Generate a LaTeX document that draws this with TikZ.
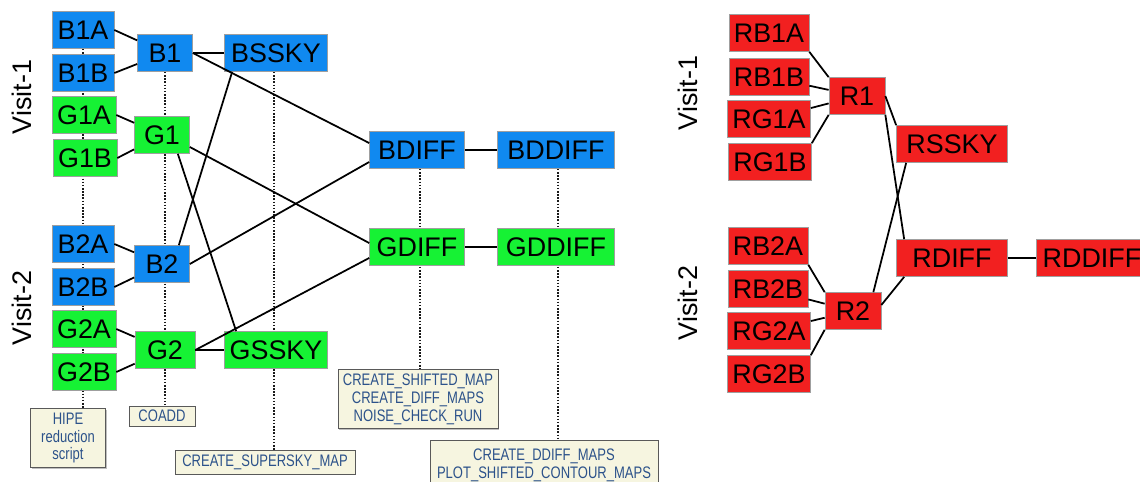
\documentclass[tikz,border=0pt]{standalone}
\usepackage{fontspec}
\setmainfont{Liberation Sans}
\newfontfamily\notefont[FakeStretch=0.78]{Liberation Sans}
\usetikzlibrary{positioning,backgrounds,shadows}

\definecolor{bandB}{RGB}{16,137,240}
\definecolor{bandG}{RGB}{22,242,52}
\definecolor{bandR}{RGB}{242,32,32}
\definecolor{notefill}{RGB}{246,245,224}
\definecolor{notetext}{RGB}{44,82,138}

\begin{document}
\begin{tikzpicture}[x=0.02cm, y=-0.02cm,
  box/.style={rectangle, draw=gray!75, fill=#1, minimum height=0.74cm, inner sep=1pt, font=\fontsize{15.3}{17}\selectfont},
  visit/.style={rotate=90, font=\fontsize{15.3}{17}\selectfont},
  note/.style={rectangle, draw=black!65, fill=notefill, text=notetext, align=center, inner sep=1pt,
    font={\notefont\fontsize{9.5}{10.2}\selectfont}, drop shadow={shadow xshift=0.7pt, shadow yshift=-0.7pt, fill=black!50}},
  link/.style={line width=1pt},
  trace/.style={dash pattern=on 0.9pt off 0.9pt, line width=1.1pt, black!90},
]

\useasboundingbox (0,0) rectangle (1140,481);
\clip (0,0) rectangle (1140,481);

% Visit labels
\node[visit] (v1) at (22,97) {Visit-1};
\node[visit] (v2) at (22,308) {Visit-2};

% Visit-1 inputs
\node[box=bandB, minimum width=1.24cm] (B1A) at (83,30) {B1A};
\node[box=bandB, minimum width=1.24cm] (B1B) at (83,73) {B1B};
\node[box=bandG, minimum width=1.28cm] (G1A) at (84,115) {G1A};
\node[box=bandG, minimum width=1.28cm] (G1B) at (85,158) {G1B};

% Visit-2 inputs
\node[box=bandB, minimum width=1.24cm] (B2A) at (83,244) {B2A};
\node[box=bandB, minimum width=1.24cm] (B2B) at (83,287) {B2B};
\node[box=bandG, minimum width=1.28cm] (G2A) at (84,329) {G2A};
\node[box=bandG, minimum width=1.28cm] (G2B) at (84,372) {G2B};

% Co-added maps
\node[box=bandB, minimum width=1.1cm] (B1) at (165,53) {B1};
\node[box=bandG, minimum width=1.1cm] (G1) at (162,135) {G1};
\node[box=bandB, minimum width=1.1cm] (B2) at (162,264) {B2};
\node[box=bandG, minimum width=1.2cm] (G2) at (165,350) {G2};

% Supersky
\node[box=bandB, minimum width=2.06cm] (BSSKY) at (276,53) {BSSKY};
\node[box=bandG, minimum width=2.06cm] (GSSKY) at (276,350) {GSSKY};

% Differences
\node[box=bandB, minimum width=1.9cm] (BDIFF) at (417,150) {BDIFF};
\node[box=bandB, minimum width=2.34cm] (BDDIFF) at (556,150) {BDDIFF};
\node[box=bandG, minimum width=1.9cm] (GDIFF) at (417,247) {GDIFF};
\node[box=bandG, minimum width=2.34cm] (GDDIFF) at (556,247) {GDDIFF};

% Script notes
\node[note, minimum width=1.5cm, minimum height=1.18cm] (hipe) at (68,438) {HIPE\\reduction\\script};
\node[note, minimum width=1.32cm, minimum height=0.4cm] (coadd) at (162,416) {COADD};
\node[note, minimum width=3.6cm, minimum height=0.48cm] (supersky) at (265,462) {CREATE\_SUPERSKY\_MAP};
\node[note, minimum width=3.2cm, minimum height=1.18cm] (shifted) at (418,399) {CREATE\_SHIFTED\_MAP\\CREATE\_DIFF\_MAPS\\NOISE\_CHECK\_RUN};
\node[note, minimum width=4.56cm, minimum height=0.98cm] (ddiff) at (544,465) {CREATE\_DDIFF\_MAPS\\PLOT\_SHIFTED\_CONTOUR\_MAPS};

% Connectors, left
\draw[link] (B1A.east) -- (B1);
\draw[link] (B1B.east) -- (B1);
\draw[link] (G1A.east) -- (G1);
\draw[link] (G1B.east) -- (G1);
\draw[link] (B2A.east) -- (B2);
\draw[link] (B2B.east) -- (B2);
\draw[link] (G2A.east) -- (G2);
\draw[link] (G2B.east) -- (G2);
\draw[link] (B1) -- (BSSKY);
\draw[link] (G2) -- (GSSKY);
\draw[link] (B1.east) -- ([yshift=0.14cm]BDIFF.west);
\draw[link] (B2.east) -- ([yshift=-0.24cm]BDIFF.west);
\draw[link] ([yshift=-0.24cm]G1.east) -- ([yshift=0.08cm]GDIFF.west);
\draw[link] (G2.east) -- ([yshift=-0.22cm]GDIFF.west);
\draw[link] ([xshift=0.16cm]BSSKY.south west) -- ([xshift=-0.22cm]B2.north east);
\draw[link] ([xshift=-0.24cm]G1.south east) -- ([xshift=0.24cm]GSSKY.north west);
\draw[link] (BDIFF) -- (BDDIFF);
\draw[link] (GDIFF) -- (GDDIFF);

% Dotted traces to the scripts
\begin{scope}[on background layer]
\draw[trace] (B1A.south) -- (B1A.south |- hipe.north);
\draw[trace] (B1.south) -- (B1.south |- coadd.north);
\draw[trace] ([xshift=-0.04cm]BSSKY.south) -- ([xshift=-0.04cm]BSSKY.south |- supersky.north);
\draw[trace] ([xshift=0.06cm]BDIFF.south) -- ([xshift=0.06cm]BDIFF.south |- shifted.north);
\draw[trace] ([xshift=0.04cm]BDDIFF.south) -- ([xshift=0.04cm]BDDIFF.south |- ddiff.north);
\end{scope}

% Right panel
\node[visit] (rv1) at (688,93) {Visit-1};
\node[visit] (rv2) at (688,303) {Visit-2};

\node[box=bandR, minimum width=1.6cm] (RB1A) at (769,33) {RB1A};
\node[box=bandR, minimum width=1.6cm] (RB1B) at (769,77) {RB1B};
\node[box=bandR, minimum width=1.66cm] (RG1A) at (769,119) {RG1A};
\node[box=bandR, minimum width=1.66cm] (RG1B) at (770,162) {RG1B};
\node[box=bandR, minimum width=1.6cm] (RB2A) at (768,246) {RB2A};
\node[box=bandR, minimum width=1.6cm] (RB2B) at (768,289) {RB2B};
\node[box=bandR, minimum width=1.66cm] (RG2A) at (769,331) {RG2A};
\node[box=bandR, minimum width=1.66cm] (RG2B) at (769,374) {RG2B};

\node[box=bandR, minimum width=1.12cm] (R1) at (857,96) {R1};
\node[box=bandR, minimum width=1.12cm] (R2) at (853,311) {R2};
\node[box=bandR, minimum width=2.22cm] (RSSKY) at (952,144) {RSSKY};
\node[box=bandR, minimum width=2.22cm] (RDIFF) at (952,258) {RDIFF};
\node[box=bandR, minimum width=2.22cm] (RDDIFF) at (1092,258) {RDDIFF};

\draw[link] (RB1A.south east) -- (R1.north west);
\draw[link] (RB1B) -- (R1);
\draw[link] (RG1A) -- (R1);
\draw[link] (RG1B.north east) -- (R1.south west);
\draw[link] (RB2A.south east) -- (R2.north west);
\draw[link] (RB2B) -- (R2);
\draw[link] (RG2A) -- (R2);
\draw[link] (RG2B.north east) -- (R2.south west);
\draw[link] (R1.east) -- (RSSKY.north west);
\draw[link] (R1.south east) -- ([xshift=0.16cm]RDIFF.north west);
\draw[link] ([xshift=0.2cm]RSSKY.south west) -- ([xshift=-0.16cm]R2.north east);
\draw[link] ([yshift=0.12cm]R2.east) -- ([xshift=0.16cm]RDIFF.south west);
\draw[link] (RDIFF) -- (RDDIFF);

\end{tikzpicture}
\end{document}
